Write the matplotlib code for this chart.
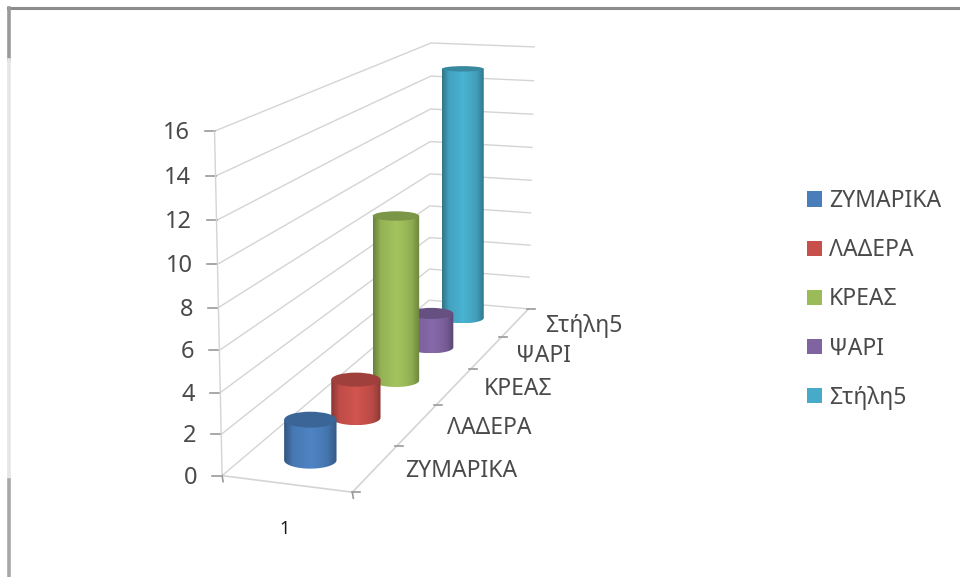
#!/usr/bin/env python3
"""3D style cylinder chart, drawn on a flat pixel axes with a perspective projection."""
import numpy as np
import matplotlib
matplotlib.use('Agg')
import matplotlib.pyplot as plt
from matplotlib.colors import LinearSegmentedColormap, to_rgb
from matplotlib.patches import Ellipse, Patch, PathPatch
from matplotlib.path import Path

plt.rcParams['font.family'] = ['Noto Sans', 'DejaVu Sans']

categories = ['ΖΥΜΑΡΙΚΑ', 'ΛΑΔΕΡΑ', 'ΚΡΕΑΣ', 'ΨΑΡΙ', 'Στήλη5']
values = [2, 2, 9, 2, 15]
colors = ['#4A7EBB', '#C8504B', '#9BBB59', '#8064A2', '#46AAC8']
yticks = [0, 2, 4, 6, 8, 10, 12, 14, 16]
ymax = 16

GRID = '#d4d4d4'
TEXT = '#4a4a4a'

# box corners: (x 0-1, depth 0-1, value 0-1) -> pixel on the picture
corners = [
    ((0, 0, 0), (222, 476)), ((1, 0, 0), (352, 492)), ((1, 1, 0), (528, 309)),
    ((0, 1, 0), (430, 300)), ((0, 0, 1), (215, 131)), ((0, 1, 1), (430, 43)),
    ((1, 1, 1), (535, 47)),
]
A, b = [], []
for (x, d, z), (u, v) in corners:
    A.append([x, d, z, 1, 0, 0, 0, 0, -u * x, -u * d, -u * z])
    A.append([0, 0, 0, 0, x, d, z, 1, -v * x, -v * d, -v * z])
    b += [u, v]
P = np.append(np.linalg.lstsq(np.array(A, float), np.array(b, float), rcond=None)[0], 1).reshape(3, 4)


def project(x, d, val):
    p = P @ np.array([x, d, val / ymax, 1.0])
    return p[0] / p[2], p[1] / p[2]


fig = plt.figure(figsize=(9.6, 5.77), dpi=100)
ax = fig.add_axes([0, 0, 1, 1])
ax.set_xlim(0, 960)
ax.set_ylim(577, 0)
ax.axis('off')

# picture frame
ax.plot([8, 960], [8, 8], color='#8c8c8c', lw=2.2, zorder=1)
ax.plot([9, 9], [8, 60], color='#9a9a9a', lw=2.6, zorder=1)
ax.plot([9, 9], [60, 480], color='#e6e6e6', lw=2.6, zorder=1)
ax.plot([9, 9], [480, 577], color='#a8a8a8', lw=2.6, zorder=1)

# walls
for t in yticks:
    ax.plot(*zip(project(0, 0, t), project(0, 1, t), project(1, 1, t)), color=GRID, lw=1, zorder=2)
    px, py = project(0, 0, t)
    ax.plot([px - 10, px], [py, py], color='#9a9a9a', lw=1.2, zorder=2)
    ax.text(px - 25, py + 2, str(t), ha='right', va='center', fontsize=17, color=TEXT)
ax.plot(*zip(project(0, 0, 0), project(0, 0, ymax)), color=GRID, lw=1, zorder=2)

# floor
ax.plot(*zip(project(0, 0, 0), project(1, 0, 0), project(1, 1, 0)), color=GRID, lw=1.2, zorder=2)
for px, py in (project(0, 0, 0), project(1, 0, 0)):
    ax.plot([px, px + 1], [py, py + 6], color='#9a9a9a', lw=1.2, zorder=2)
px, py = project(1, 0, 0)
ax.plot([px, px + 8], [py, py], color='#9a9a9a', lw=1.2, zorder=2)

n = len(categories)
for i, cat in enumerate(categories):
    px, py = project(1, (i + 1) / n, 0)
    ax.plot([px - 2, px + 6], [py, py], color='#9a9a9a', lw=1.2, zorder=2)
    px, py = project(1, (i + 0.5) / n, 0)
    ax.text(px + 30, py + 3, cat, ha='left', va='center', fontsize=16.5, color=TEXT)

px, py = project(0.5, 0, 0)
ax.text(px - 2, py + 45, '1', ha='center', va='center', fontsize=13, color='#1a1a1a')


def flatness(y):
    # ellipses get flatter the higher up they sit
    return 0.095 + 0.0005 * y


# cylinders, back to front
for i in range(n - 1, -1, -1):
    d = (i + 0.5) / n
    z = 10 + (n - i) * 2
    cx, base = project(0.49, d, 0)
    _, top = project(0.49, d, values[i])
    _, one = project(0.49, d, 1)
    w = 1.3 * (base - one)
    ry_base = flatness(base) * w
    ry_top = flatness(top) * w
    c = np.array(to_rgb(colors[i]))
    cmap = LinearSegmentedColormap.from_list('c', [c * 0.68, c * 0.96, c, np.minimum(c * 1.05, 1), c, c * 0.92, c * 0.7])

    t = np.linspace(0, np.pi, 40)
    verts = [(cx - w, top), (cx + w, top)] + [(cx + w * np.cos(a), base + ry_base * np.sin(a)) for a in t]
    side = PathPatch(Path(verts + [verts[0]], closed=True), fc='none', ec='none', zorder=z)
    ax.add_patch(side)
    im = ax.imshow(np.linspace(0, 1, 128).reshape(1, -1), cmap=cmap, aspect='auto', zorder=z,
                   extent=(cx - w, cx + w, base + ry_base, top), interpolation='bilinear')
    im.set_clip_path(side)
    ax.add_patch(Ellipse((cx, top), 2 * w, 2 * ry_top, fc=c * 0.8, ec='none', zorder=z + 0.5))

ax.set_xlim(0, 960)
ax.set_ylim(577, 0)

handles = [Patch(fc=col, ec='none', label=cat) for col, cat in zip(colors, categories)]
ax.legend(handles=handles, loc='upper left', bbox_to_anchor=(807, 189), bbox_transform=ax.transData,
          frameon=False, fontsize=16.5, labelcolor=TEXT, handlelength=0.65, handleheight=0.65,
          handletextpad=0.3, borderpad=0, borderaxespad=0, labelspacing=1.1)

plt.savefig('out.png', dpi=100)
